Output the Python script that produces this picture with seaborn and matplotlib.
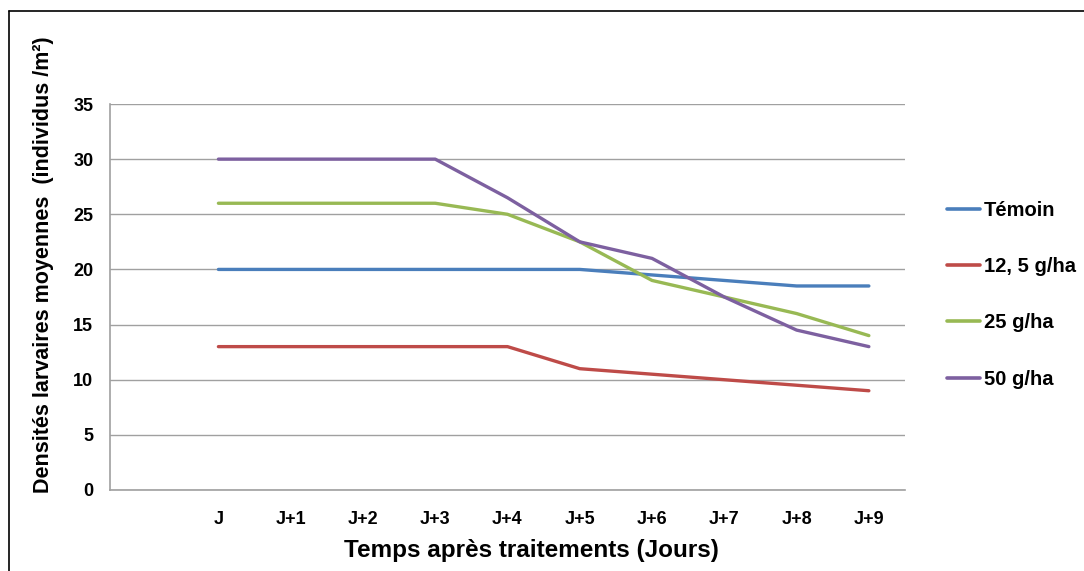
import matplotlib
matplotlib.use("Agg")
import matplotlib.pyplot as plt
import seaborn as sns
import pandas as pd
import numpy as np
from matplotlib.lines import Line2D

categories = ["", "J", "J+1", "J+2", "J+3", "J+4", "J+5", "J+6", "J+7", "J+8", "J+9"]
days = ["J", "J+1", "J+2", "J+3", "J+4", "J+5", "J+6", "J+7", "J+8", "J+9"]
temoin = [20, 20, 20, 20, 20, 20, 19.5, 19, 18.5, 18.5]
dose_12_5 = [13, 13, 13, 13, 13, 11, 10.5, 10, 9.5, 9]
dose_25 = [26, 26, 26, 26, 25, 22.5, 19, 17.5, 16, 14]
dose_50 = [30, 30, 30, 30, 26.5, 22.5, 21, 17.5, 14.5, 13]
series_names = ["Témoin", "12, 5 g/ha", "25 g/ha", "50 g/ha"]
colors = ["#4A7EBB", "#BE4B48", "#98B954", "#7D60A0"]

rows = []
for name, vals in zip(series_names, [temoin, dose_12_5, dose_25, dose_50]):
    for d, v in zip(days, vals):
        rows.append({"jour": d, "pos": categories.index(d), "valeur": v, "serie": name})
df = pd.DataFrame(rows)

sns.set_theme(style="white")
plt.rcParams["font.family"] = ["Liberation Sans", "DejaVu Sans"]
plt.rcParams["text.color"] = "black"
plt.rcParams["axes.labelcolor"] = "black"
plt.rcParams["xtick.labelcolor"] = "black"
plt.rcParams["ytick.labelcolor"] = "black"

fig = plt.figure(figsize=(10.84, 5.71), dpi=100)
ax = fig.add_axes([110/1084, 1-490/571, 795/1084, 386/571])

sns.lineplot(data=df, x="pos", y="valeur", hue="serie", hue_order=series_names,
             palette=colors, linewidth=2.4, ax=ax, legend=True)

ax.set_xlim(-0.5, len(categories) - 0.5)
ax.set_ylim(0, 35)
ax.set_yticks(range(0, 36, 5))
ax.yaxis.grid(True, color="#A0A0A0", linewidth=1.0)
ax.set_axisbelow(True)

# category boundaries as major ticks, labels at centers (minor)
ax.set_xticks(np.arange(-0.5, len(categories), 1.0))
ax.set_xticklabels([])
ax.set_xticks(np.arange(len(categories)), minor=True)
ax.set_xticklabels(categories, minor=True, fontweight="bold", fontsize=13)
ax.tick_params(axis="x", which="major", direction="out", length=6, color="#A0A0A0", width=1)
ax.tick_params(axis="x", which="minor", length=0, pad=15)
ax.tick_params(axis="y", direction="out", length=6, color="#A0A0A0", width=1, pad=6, labelsize=13)
for lab in ax.get_yticklabels():
    lab.set_fontweight("bold")

for s in ["top", "right"]:
    ax.spines[s].set_visible(False)
for s in ["left", "bottom"]:
    ax.spines[s].set_color("#A0A0A0")
    ax.spines[s].set_linewidth(1.2)

ax.set_xlabel("Temps après traitements (Jours)", fontsize=17.5, fontweight="bold")
ax.xaxis.set_label_coords(0.5296, -0.127)
ax.set_ylabel("Densités larvaires moyennes  (individus /m²)", fontsize=15.5, fontweight="bold")
ax.yaxis.set_label_coords(-0.0705, 0.583)

leg = ax.legend(loc="center left", bbox_to_anchor=(1.03, 0.506), frameon=False,
                prop={"weight": "bold", "size": 14.5}, handlelength=1.65, handletextpad=0.2,
                labelspacing=1.85)
for h in leg.get_lines():
    h.set_linewidth(2.6)

# outer frame lines (top and left)
fig.add_artist(Line2D([9/1084, 1.0], [1-11/571, 1-11/571], transform=fig.transFigure, color="black", linewidth=1.2))
fig.add_artist(Line2D([9/1084, 9/1084], [0, 1-11/571], transform=fig.transFigure, color="black", linewidth=1.2))

fig.savefig("out.png", dpi=100)
